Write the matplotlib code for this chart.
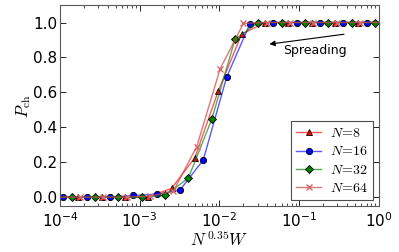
import matplotlib
matplotlib.use("Agg")
import matplotlib.pyplot as plt
import numpy as np

# bare W grid (before scaling by N^0.35)
W = [2.13e-5, 4.18e-5, 8.19e-5, 1.607e-4, 3.151e-4, 6.18e-4, 1.212e-3, 2.377e-3,
     4.661e-3, 9.14e-3, 1.792e-2, 3.516e-2, 6.895e-2, 0.1352, 0.2652, 0.520]
sizes = [8, 16, 32, 64]
p8 = [0, 0, 0, 0, 0, 0.003, 0.05, 0.226, 0.607, 0.932, 1, 1, 1, 1, 1, 1]
p16 = [0, 0, 0, 0, 0.01, 0.016, 0.04, 0.213, 0.687, 0.993, 1, 1, 1, 1, 1, 1]
p32 = [0, 0, 0, 0, 0, 0.01, 0.109, 0.445, 0.904, 1, 1, 1, 1, 1, 1, 1]
p64 = [0, 0, 0, 0, 0.005, 0.035, 0.29, 0.734, 0.995, 1, 1, 1, 1, 1, 1, 1]

plt.rcParams['mathtext.fontset'] = 'cm'
plt.rcParams['xtick.direction'] = 'in'
plt.rcParams['ytick.direction'] = 'in'
plt.rcParams['xtick.top'] = True
plt.rcParams['ytick.right'] = True

fig = plt.figure(figsize=(3.99, 2.52), dpi=100)
ax = fig.add_axes([0.150, 0.183, 0.800, 0.797])

W = np.array(W)
styles = [
    (p8, '^', (1, 0, 0, 0.65), 'r', 'k'),
    (p16, 'o', (0, 0, 1, 0.65), 'b', 'k'),
    (p32, 'D', (0, 0.5, 0, 0.65), 'g', 'k'),
    (p64, 'x', (0.8, 0.3, 0.3, 0.75), 'none', (0.85, 0.4, 0.4)),
]
for N, (p, m, lc, fc, ec) in zip(sizes, styles):
    ax.plot(W * N**0.35, p, color=lc, lw=1.0, marker=m, ms=4.5,
            mfc=fc, mec=ec, mew=0.6 if m != 'x' else 1.0,
            label=r'$N\!=\!%d$' % N)

ax.set_xscale('log')
ax.set_xlim(1e-4, 1)
ax.set_ylim(-0.05, 1.1)
ax.set_yticks([0.0, 0.2, 0.4, 0.6, 0.8, 1.0])
ax.set_yticklabels(['0.0', '0.2', '0.4', '0.6', '0.8', '1.0'])
ax.tick_params(labelsize=11, length=4, width=0.6, pad=2)
ax.tick_params(axis='x', pad=4)
ax.tick_params(which='minor', length=2, width=0.5)
for s in ax.spines.values():
    s.set_linewidth(0.8)
    s.set_color('0.35')

ax.set_xlabel(r'$N^{\,0.35}W$', fontsize=12, labelpad=0)
ax.set_ylabel(r'$P_{\rm ch}$', fontsize=12, labelpad=0)

ax.annotate('', xy=(0.0391, 0.874), xytext=(0.394, 0.935),
            arrowprops=dict(arrowstyle='-|>', color='k', lw=0.8,
                            mutation_scale=8))
ax.text(0.155, 0.842, 'Spreading', fontsize=9, ha='center', va='center')

leg = ax.legend(loc='lower right', numpoints=1, fontsize=10, fancybox=False,
                framealpha=1, borderaxespad=0.45, handlelength=1.8,
                handletextpad=0.6, labelspacing=0.3, borderpad=0.35)
leg.get_frame().set_edgecolor('0.3')
leg.get_frame().set_linewidth(0.8)

fig.savefig('out.png', dpi=100)
